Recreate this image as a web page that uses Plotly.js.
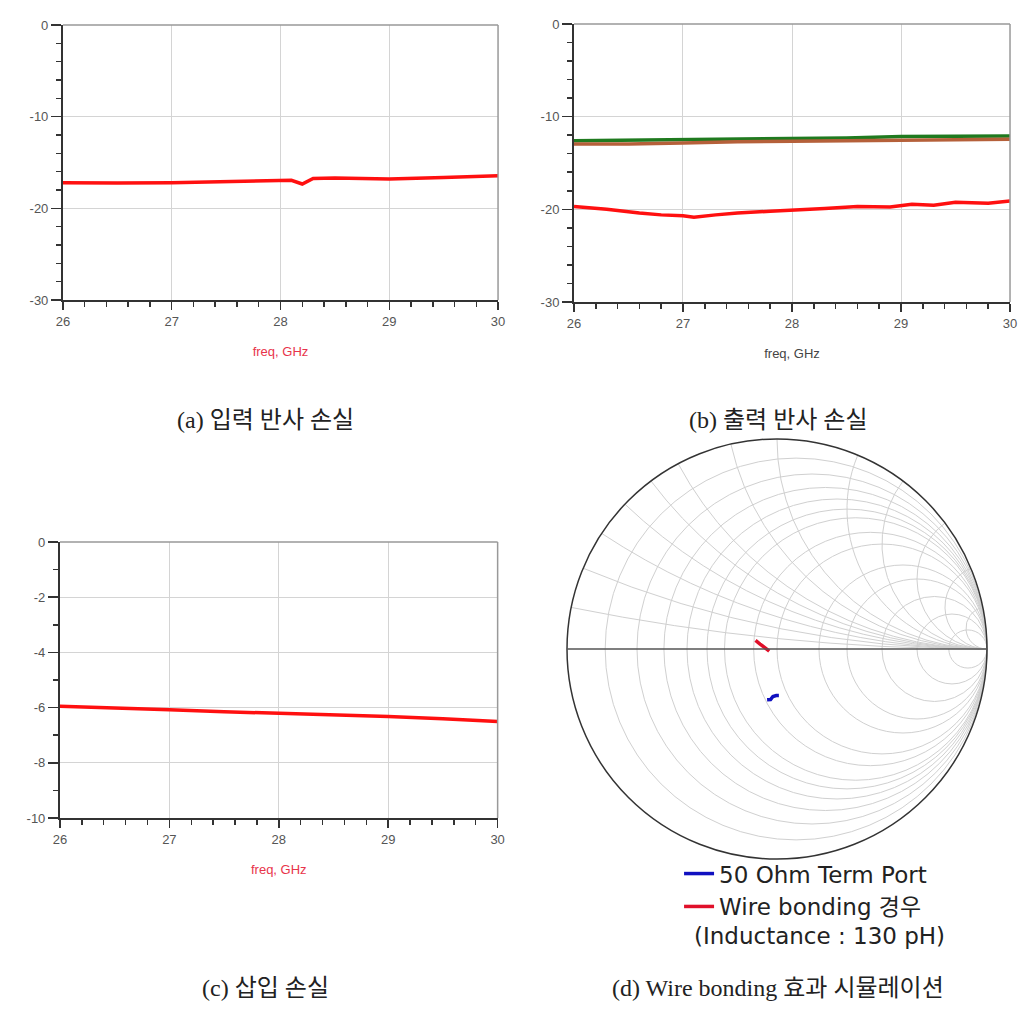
<!DOCTYPE html>
<html>
<head>
<meta charset="utf-8">
<script src="https://cdn.plot.ly/plotly-3.0.1.min.js"></script>
<style>
  html, body { margin: 0; padding: 0; background: #fff; }
  #chart { width: 1032px; height: 1012px; }
</style>
</head>
<body>
<div id="chart"></div>
<script>
// ---- data ----
const freqA = [26, 26.5, 27, 27.5, 28, 28.1, 28.2, 28.3, 28.5, 29, 29.5, 30];
const s11A  = [-17.2, -17.25, -17.2, -17.05, -16.9, -16.95, -17.35, -16.75, -16.7, -16.8, -16.65, -16.45];

const freqB  = [26, 26.5, 27, 27.5, 28, 28.5, 29, 29.5, 30];
const s22Grn = [-12.6, -12.55, -12.5, -12.45, -12.4, -12.3, -12.15, -12.1, -12.1];
const s22Brn = [-12.95, -12.95, -12.85, -12.7, -12.65, -12.6, -12.5, -12.45, -12.45];
const freqB2 = [26, 26.3, 26.6, 26.8, 27, 27.1, 27.3, 27.5, 27.8, 28, 28.3, 28.6, 28.9, 29.1, 29.3, 29.5, 29.8, 30];
const s22Red = [-19.7, -20.0, -20.4, -20.6, -20.7, -20.85, -20.6, -20.4, -20.2, -20.1, -19.9, -19.7, -19.75, -19.45, -19.55, -19.25, -19.35, -19.1];

const freqC = [26, 26.5, 27, 27.5, 28, 28.5, 29, 29.5, 30];
const s21C  = [-5.95, -6.0, -6.08, -6.15, -6.2, -6.27, -6.32, -6.4, -6.5];

// tick labels (ADS prints a plain hyphen)
const xTicks   = [26, 27, 28, 29, 30];
const yTicksDb = [0, -10, -20, -30];
const yTicksIl = [0, -2, -4, -6, -8, -10];

// smith chart, normalised impedance
const portRe = [0.813, 0.84, 0.87, 0.9, 0.922];
const portIm = [-0.419, -0.43, -0.415, -0.42, -0.43];
const wireRe = [0.812, 0.85, 0.89, 0.929];
const wireIm = [0.067, 0.04, 0.012, -0.019];
const smithReal = [0.1, 0.2, 0.3, 0.4, 0.5, 0.6, 0.8, 1, 1.5, 2, 3, 5, 10];
const smithImag = [0.1, 0.2, 0.3, 0.4, 0.5, 0.6, 0.8, 1, 1.5, 2, 3, 5, 10];

const captions = ["(a) 입력 반사 손실", "(b) 출력 반사 손실", "(c) 삽입 손실", "(d) Wire bonding 효과 시뮬레이션"];

// ---- helpers ----
const tickFont = { family: "Liberation Sans, Arial, sans-serif", size: 13, color: "#555" };

function xAxis(domain, anchor, titleColor) {
  return {
    domain, anchor, range: [26, 30],
    tickvals: xTicks, ticktext: xTicks.map(String),
    showline: true, linecolor: "#333", linewidth: 2,
    ticks: "outside", ticklen: 8, tickcolor: "#333", tickwidth: 1.5,
    minor: { dtick: 0.2, ticks: "outside", ticklen: 5, tickcolor: "#333", showgrid: false },
    showgrid: true, gridcolor: "#d4d4d4", gridwidth: 1,
    zeroline: false, tickfont: tickFont,
    title: { text: "freq, GHz", font: { family: "Liberation Sans, Arial, sans-serif", size: 13, color: titleColor }, standoff: 19 }
  };
}

function yAxis(domain, anchor, range, vals, minorDtick) {
  return {
    domain, anchor, range,
    tickvals: vals, ticktext: vals.map(String),
    showline: true, linecolor: "#333", linewidth: 2,
    ticks: "outside", ticklen: 10, tickcolor: "#333", tickwidth: 1.5,
    minor: { dtick: minorDtick, ticks: "outside", ticklen: 5, tickcolor: "#333", showgrid: false },
    showgrid: true, gridcolor: "#d4d4d4", gridwidth: 1,
    zeroline: false, tickfont: tickFont
  };
}

function boxEdges(xa, ya) {
  return [
    { type: "line", xref: xa + " domain", yref: ya + " domain", x0: 0, x1: 1, y0: 1, y1: 1, line: { color: "#999", width: 1.5 } },
    { type: "line", xref: xa + " domain", yref: ya + " domain", x0: 1, x1: 1, y0: 0, y1: 1, line: { color: "#999", width: 1.5 } }
  ];
}

const traces = [
  { x: freqA, y: s11A, xaxis: "x", yaxis: "y", mode: "lines", line: { color: "#ff1010", width: 3.5 }, showlegend: false },
  { x: freqB, y: s22Grn, xaxis: "x2", yaxis: "y2", mode: "lines", line: { color: "#1f7a1f", width: 3.5 }, showlegend: false },
  { x: freqB, y: s22Brn, xaxis: "x2", yaxis: "y2", mode: "lines", line: { color: "#b5603a", width: 3.5 }, showlegend: false },
  { x: freqB2, y: s22Red, xaxis: "x2", yaxis: "y2", mode: "lines", line: { color: "#ff1010", width: 3.5 }, showlegend: false },
  { x: freqC, y: s21C, xaxis: "x3", yaxis: "y3", mode: "lines", line: { color: "#ff1010", width: 3.5 }, showlegend: false },
  { type: "scattersmith", real: portRe, imag: portIm, subplot: "smith", mode: "lines",
    line: { color: "#1010c0", width: 3.5 }, name: "50 Ohm Term Port" },
  { type: "scattersmith", real: wireRe, imag: wireIm, subplot: "smith", mode: "lines",
    line: { color: "#e0102a", width: 3.5 }, name: "Wire bonding 경우" }
];

const captionFont = { family: "Liberation Serif, Noto Sans CJK KR, serif", size: 24, color: "#222" };
const capPos = [[0.257, 0.585], [0.754, 0.585], [0.257, 0.024], [0.754, 0.024]];
const legendFont = { family: "DejaVu Sans, Noto Sans CJK KR, sans-serif", size: 23, color: "#222" };

const layout = {
  width: 1032, height: 1012,
  margin: { l: 0, r: 0, t: 0, b: 0 },
  paper_bgcolor: "#fff", plot_bgcolor: "#fff",
  xaxis: xAxis([0.061, 0.4826], "y", "#e8344a"),
  yaxis: yAxis([0.7036, 0.9753], "x", [-30, 0], yTicksDb, 2),
  xaxis2: xAxis([0.5562, 0.9787], "y2", "#444"),
  yaxis2: yAxis([0.7016, 0.9763], "x2", [-30, 0], yTicksDb, 2),
  xaxis3: xAxis([0.0581, 0.4822], "y3", "#e8344a"),
  yaxis3: yAxis([0.1917, 0.4644], "x3", [-10, 0], yTicksIl, 1),
  smith: {
    domain: { x: [0.5494, 0.9564], y: [0.1512, 0.5662] },
    bgcolor: "#fff",
    realaxis: {
      tickvals: smithReal, showticklabels: false, ticks: "",
      showgrid: true, gridcolor: "#d0d0d0", gridwidth: 1,
      showline: true, linecolor: "#555", linewidth: 1.5
    },
    imaginaryaxis: {
      tickvals: smithImag, showticklabels: false, ticks: "",
      showgrid: true, gridcolor: "#d0d0d0", gridwidth: 1,
      showline: true, linecolor: "#333", linewidth: 1.5
    }
  },
  showlegend: true,
  legend: {
    x: 0.658, y: 0.158, xanchor: "left", yanchor: "top",
    font: legendFont, itemwidth: 30, tracegroupgap: 0, bgcolor: "rgba(0,0,0,0)"
  },
  shapes: [].concat(boxEdges("x", "y"), boxEdges("x2", "y2"), boxEdges("x3", "y3")),
  annotations: captions.map((t, i) => ({
    text: t, xref: "paper", yref: "paper", x: capPos[i][0], y: capPos[i][1],
    xanchor: "center", yanchor: "middle", showarrow: false, font: captionFont
  })).concat([{
    text: "(Inductance : 130 pH)", xref: "paper", yref: "paper", x: 0.671, y: 0.075,
    xanchor: "left", yanchor: "middle", showarrow: false, font: legendFont
  }])
};

Plotly.newPlot("chart", traces, layout, { staticPlot: true });
</script>
</body>
</html>
